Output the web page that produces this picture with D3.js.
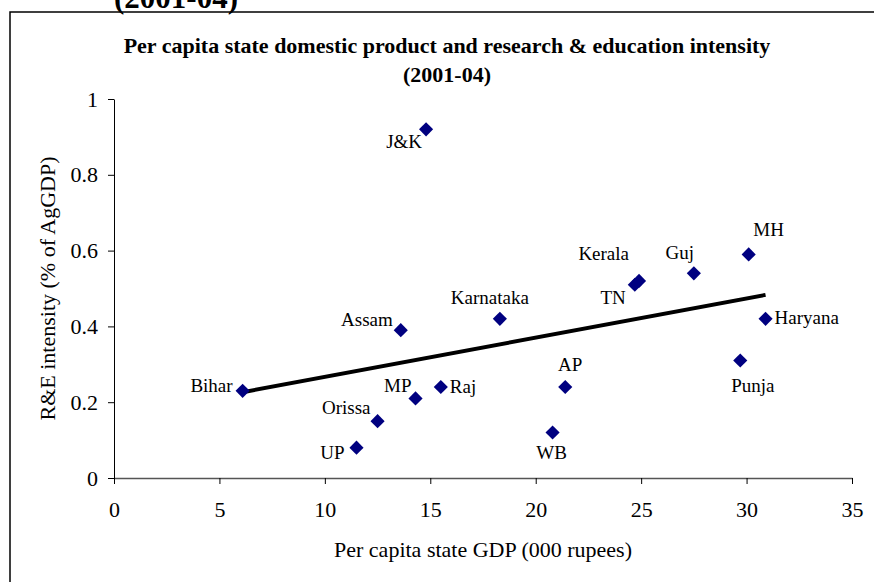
<!DOCTYPE html>
<html lang="en">
<head>
<meta charset="UTF-8">
<title>Per capita SDP and R&amp;E intensity</title>
<style>
    body { margin: 0; padding: 0; background: #fff; }
    svg { display: block; font-family: "Liberation Serif", "Times New Roman", serif; }
</style>
</head>
<body>
<svg id="chart" width="874" height="582"></svg>

<script src="https://d3js.org/d3.v7.min.js"></script>
<script>
    // state names, per capita GDP (000 rupees) and R&E intensity (% of AgGDP)
    var states = ["Bihar", "UP", "Orissa", "Assam", "MP", "J&K", "Raj", "Karnataka",
                  "WB", "AP", "TN", "Kerala", "Guj", "MH", "Haryana", "Punja"];
    var gdp = [6.1, 11.5, 12.5, 13.6, 14.3, 14.8, 15.5, 18.3,
               20.8, 21.4, 24.7, 24.9, 27.5, 30.1, 30.9, 29.7];
    var intensity = [0.23, 0.08, 0.15, 0.39, 0.21, 0.92, 0.24, 0.42,
                     0.12, 0.24, 0.51, 0.52, 0.54, 0.59, 0.42, 0.31];

    var xTicks = [0, 5, 10, 15, 20, 25, 30, 35];
    var xTickLabels = ["0", "5", "10", "15", "20", "25", "30", "35"];
    var yTicks = [0, 0.2, 0.4, 0.6, 0.8, 1];
    var yTickLabels = ["0", "0.2", "0.4", "0.6", "0.8", "1"];

    // where each data label sits around its marker: [dx, dy, anchor]
    var labelPlace = {
        "Bihar": [-10, 1, "end"], "UP": [-12, 11, "end"], "Orissa": [-7, -7, "end"],
        "Assam": [-8, -4, "end"], "MP": [-4, -6, "end"], "J&K": [-4, 19, "end"],
        "Raj": [9, 6, "start"], "Karnataka": [-10, -15, "middle"], "WB": [-1, 26, "middle"],
        "AP": [5, -16, "middle"], "TN": [-9, 19, "end"], "Kerala": [-10, -21, "end"],
        "Guj": [-14, -14, "middle"], "MH": [20, -18, "middle"], "Haryana": [9, 5, "start"],
        "Punja": [-9, 31, "start"]
    };

    var data = states.map(function (s, i) {
        return { name: s, x: gdp[i], y: intensity[i] };
    });

    var svg = d3.select("#chart");
    var plotLeft = 114, plotRight = 852, plotTop = 99, plotBottom = 478;

    var x = d3.scaleLinear().domain([0, 35]).range([plotLeft, plotRight]);
    var y = d3.scaleLinear().domain([0, 1]).range([plotBottom, plotTop]);

    // frame of the chart area (cropped at right and bottom)
    svg.append("path")
        .attr("d", "M10,582V12H874")
        .attr("fill", "none")
        .attr("stroke", "#000")
        .attr("stroke-width", 1.5);

    // cut-off heading from the page above the chart
    svg.append("text")
        .attr("x", 176).attr("y", 8)
        .attr("text-anchor", "middle")
        .attr("font-weight", "bold")
        .attr("font-size", 31)
        .text("(2001-04)");

    // chart title
    var title = svg.append("text")
        .attr("text-anchor", "middle")
        .attr("font-weight", "bold")
        .attr("font-size", 22);
    title.append("tspan").attr("x", 447).attr("y", 53)
        .text("Per capita state domestic product and research & education intensity");
    title.append("tspan").attr("x", 447).attr("y", 82)
        .text("(2001-04)");

    // axes
    var xAxis = svg.append("g")
        .attr("transform", "translate(0," + plotBottom + ")")
        .call(d3.axisBottom(x).tickValues(xTicks)
            .tickFormat(function (d, i) { return xTickLabels[i]; })
            .tickSize(6).tickSizeOuter(0).tickPadding(17));
    xAxis.select(".domain").attr("stroke", "#555").attr("stroke-width", 1.3);

    var yAxis = svg.append("g")
        .attr("transform", "translate(" + plotLeft + ",0)")
        .call(d3.axisLeft(y).tickValues(yTicks)
            .tickFormat(function (d, i) { return yTickLabels[i]; })
            .tickSize(6).tickSizeOuter(0).tickPadding(10));

    svg.selectAll(".tick text")
        .attr("font-family", "Liberation Serif, serif")
        .attr("font-size", 22)
        .attr("fill", "#000");

    // axis titles
    svg.append("text")
        .attr("x", (plotLeft + plotRight) / 2).attr("y", 557)
        .attr("text-anchor", "middle")
        .attr("font-size", 22)
        .text("Per capita state GDP (000 rupees)");

    svg.append("text")
        .attr("transform", "translate(55," + (plotTop + plotBottom) / 2 + ") rotate(-90)")
        .attr("text-anchor", "middle")
        .attr("font-size", 22)
        .text("R&E intensity (% of AgGDP)");

    // linear trend line (least squares fit over the points)
    var mx = d3.mean(data, d => d.x), my = d3.mean(data, d => d.y);
    var slope = d3.sum(data, d => (d.x - mx) * (d.y - my)) / d3.sum(data, d => (d.x - mx) * (d.x - mx));
    var icpt = my - slope * mx;
    var xr = d3.extent(data, d => d.x);

    svg.append("line")
        .attr("x1", x(xr[0])).attr("y1", y(icpt + slope * xr[0]))
        .attr("x2", x(xr[1])).attr("y2", y(icpt + slope * xr[1]))
        .attr("stroke", "#000")
        .attr("stroke-width", 4);

    // diamond markers
    var diamond = d3.symbol().type(d3.symbolSquare).size(100);
    svg.selectAll(".pt")
        .data(data)
        .enter().append("path")
        .attr("class", "pt")
        .attr("d", diamond)
        .attr("transform", d => "translate(" + x(d.x) + "," + y(d.y) + ") rotate(45)")
        .attr("fill", "#000080");

    // data labels
    svg.selectAll(".lbl")
        .data(data)
        .enter().append("text")
        .attr("class", "lbl")
        .attr("x", d => x(d.x) + labelPlace[d.name][0])
        .attr("y", d => y(d.y) + labelPlace[d.name][1])
        .attr("text-anchor", d => labelPlace[d.name][2])
        .attr("font-size", 19)
        .text(d => d.name);
</script>
</body>
</html>
